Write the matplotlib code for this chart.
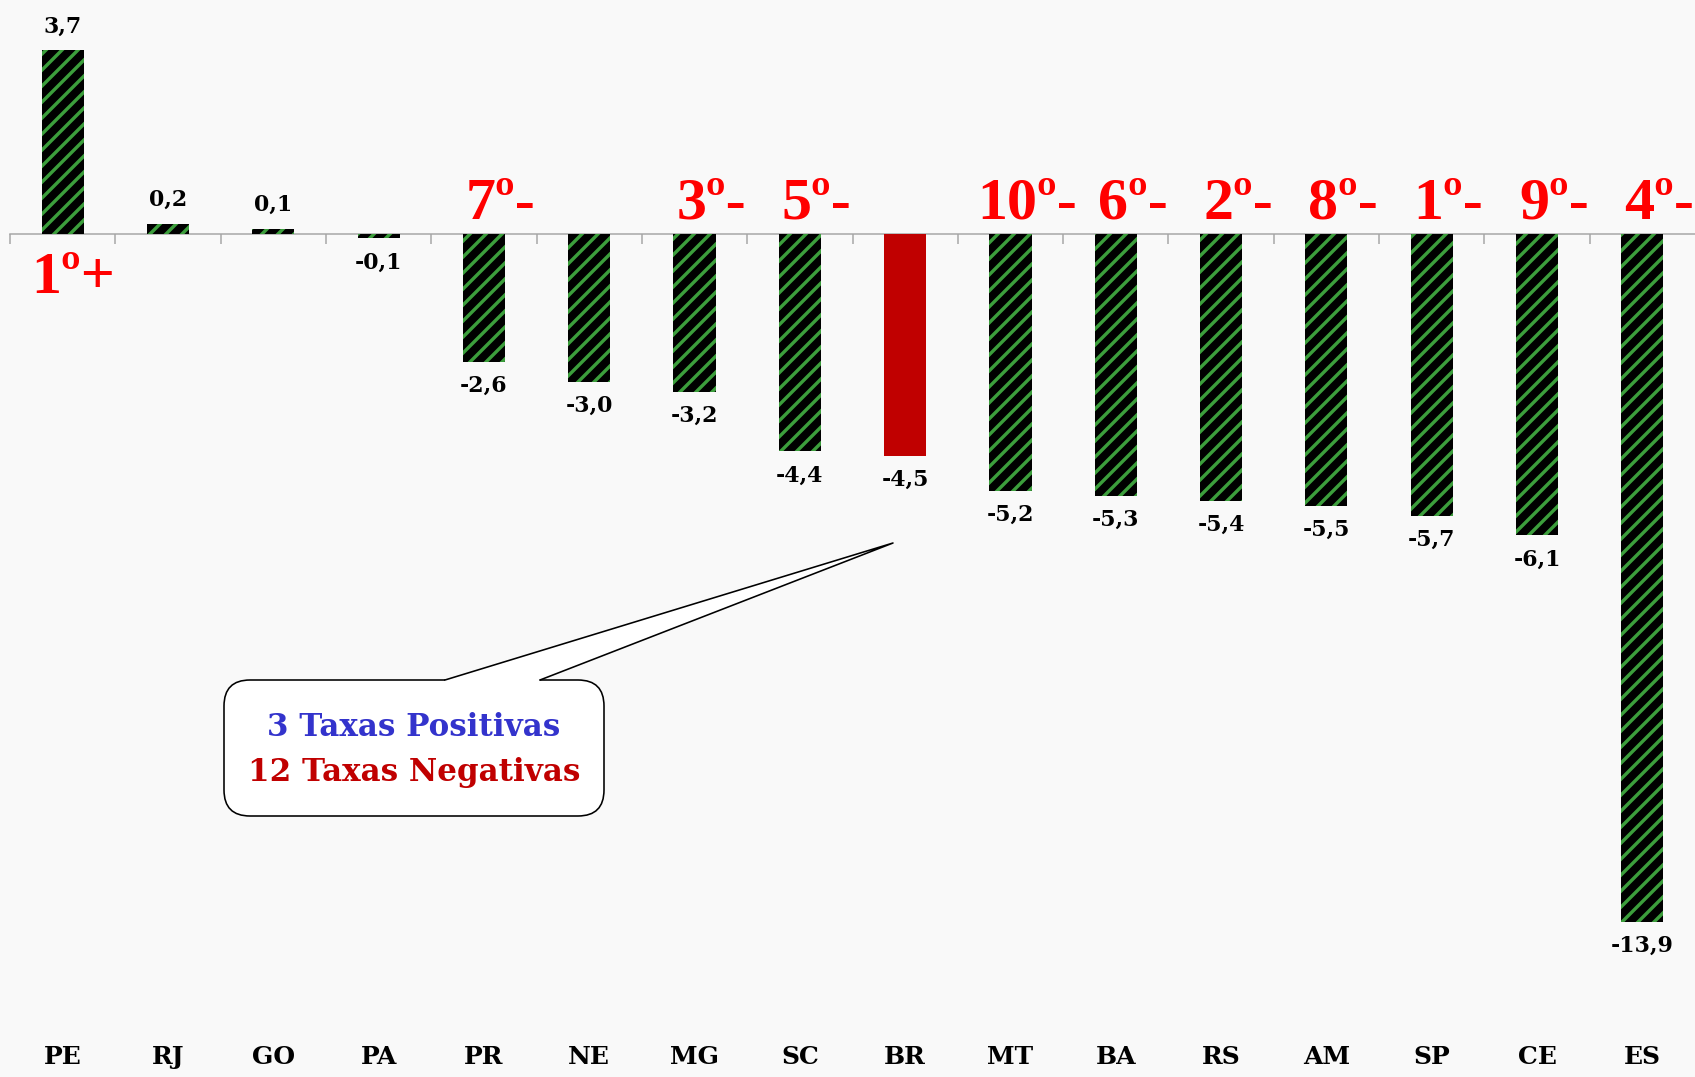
import numpy as np
import matplotlib
matplotlib.use("Agg")
import matplotlib.pyplot as plt
from matplotlib.patches import FancyBboxPatch, Polygon

# dados
estados = ["PE", "RJ", "GO", "PA", "PR", "NE", "MG", "SC", "BR",
           "MT", "BA", "RS", "AM", "SP", "CE", "ES"]
taxas = [3.7, 0.2, 0.1, -0.1, -2.6, -3.0, -3.2, -4.4, -4.5,
         -5.2, -5.3, -5.4, -5.5, -5.7, -6.1, -13.9]
ranking = ["1º+", "", "", "", "7º-", "", "3º-", "5º-", "",
           "10º-", "6º-", "2º-", "8º-", "1º-", "9º-", "4º-"]
caixa_linhas = ["3 Taxas Positivas", "12 Taxas Negativas"]

bg = "#F9F9F9"
verde = "#3C9E3C"
vermelho = "#C00000"
W, H = 1695, 1077
DPI = 96
k = 72 / DPI  # px -> pt

plt.rcParams["hatch.linewidth"] = 3.4 * k
fig = plt.figure(figsize=(W / DPI, H / DPI), dpi=DPI, facecolor=bg)
ax = fig.add_axes([10 / W, 37 / H, 1685 / W, 1040 / H])
ax.set_facecolor(bg)

x = np.arange(len(estados))
ppu = 49.5
ymax = 233.5 / ppu
ymin = -(1040 - 233.5) / ppu

bars = ax.bar(x, taxas, width=0.40, color="black", edgecolor=verde,
              hatch="//", linewidth=0, zorder=2)
ibr = estados.index("BR")
bars[ibr].set_hatch(None)
bars[ibr].set_facecolor(vermelho)
bars[ibr].set_edgecolor(vermelho)

ax.bar_label(bars, labels=[f"{v:.1f}".replace(".", ",") for v in taxas],
             padding=13 * k, fontsize=22 * k, fontweight="bold",
             family="DejaVu Serif", color="black")

for xi, v, r in zip(x, taxas, ranking):
    if not r:
        continue
    if v > 0:
        ax.text(xi + 0.1, -1.2, r, ha="center", va="baseline", color="#FF0000",
                fontsize=60 * k, fontweight="bold", family="Liberation Serif")
    else:
        ax.text(xi + 0.16, 0.3, r, ha="center", va="baseline", color="#FF0000",
                fontsize=60 * k, fontweight="bold", family="Liberation Serif")

ax.set_xlim(-0.5, len(estados) - 0.5)
ax.set_ylim(ymin, ymax)
ax.set_yticks([])
for s in ["top", "right", "left"]:
    ax.spines[s].set_visible(False)
ax.spines["bottom"].set_position(("data", 0))
ax.spines["bottom"].set_color("#A6A6A6")
ax.spines["bottom"].set_linewidth(1.5 * k)
ax.spines["bottom"].set_zorder(1)
ax.set_xticks(np.arange(-0.5, len(estados) - 0.5, 1.0))
ax.set_xticklabels([])
ax.tick_params(axis="x", length=10 * k, width=1.5 * k, color="#A6A6A6")

sec = ax.secondary_xaxis("bottom")
sec.set_xticks(x, labels=estados)
sec.tick_params(length=0, pad=5 * k)
sec.spines["bottom"].set_visible(False)
for lb in sec.get_xticklabels():
    lb.set_fontsize(25 * k)
    lb.set_fontweight("bold")
    lb.set_family("DejaVu Serif")

# balao
tr = fig.dpi_scale_trans
def px(px_x, px_y):
    return (px_x / DPI, (H - px_y) / DPI)

bx0, by0 = px(224, 816)
bx1, by1 = px(604, 680)
box = FancyBboxPatch((bx0, by0), bx1 - bx0, by1 - by0,
                     boxstyle=f"round,pad=0,rounding_size={26 / DPI}",
                     transform=tr, facecolor="white", edgecolor="black",
                     linewidth=1.6 * k, zorder=5)
fig.patches.append(box)
b1 = px(445, 680)
b2 = px(540, 680)
tip = px(893, 543)
fill = Polygon([(b1[0], b1[1] - 0.03), b1, tip, b2, (b2[0], b2[1] - 0.03)],
               closed=True, transform=tr, facecolor="white", edgecolor="none",
               zorder=6)
fig.patches.append(fill)
fig.lines.append(plt.Line2D([b1[0], tip[0], b2[0]], [b1[1], tip[1], b2[1]],
                            transform=tr, color="black", linewidth=1.6 * k, zorder=7))
fig.text(414 / W, 1 - 727 / H, caixa_linhas[0], ha="center", va="center",
         color="#3333CC", fontsize=31 * k, fontweight="bold", family="DejaVu Serif",
         zorder=8)
fig.text(414 / W, 1 - 773 / H, caixa_linhas[1], ha="center", va="center",
         color=vermelho, fontsize=31 * k, fontweight="bold", family="DejaVu Serif",
         zorder=8)

fig.savefig("out.png", dpi=DPI, facecolor=bg)
